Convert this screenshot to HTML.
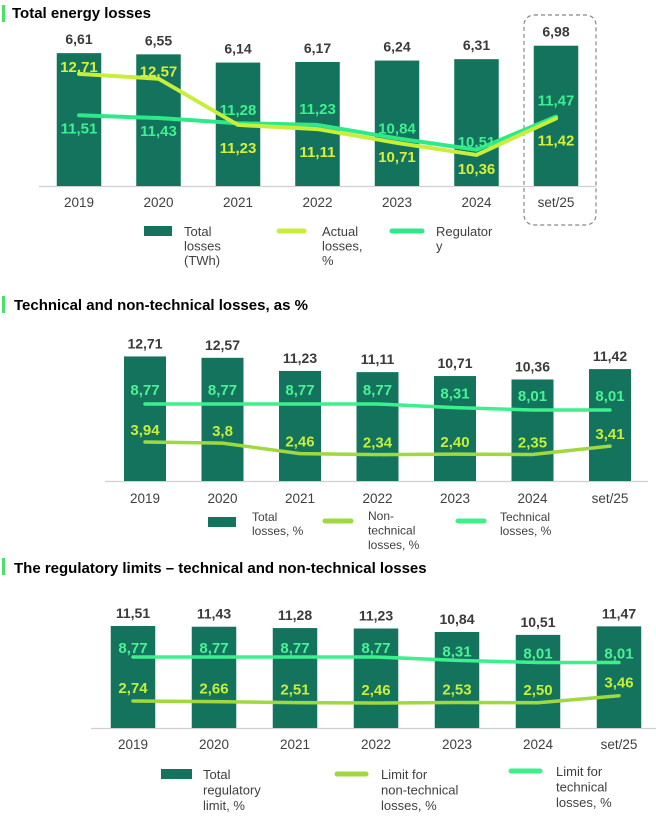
<!DOCTYPE html>
<html><head><meta charset="utf-8">
<style>
html,body{margin:0;padding:0;background:#fff;}
svg{display:block;font-family:"Liberation Sans",Arial,sans-serif;}
.t{font-weight:bold;font-size:15px;fill:#000;}
.v{font-weight:bold;fill:#3a3a3a;}
.x{fill:#404040;}
.lg{fill:#404040;}
</style></head>
<body>
<svg id="s" width="656" height="817" viewBox="0 0 656 817">
  <rect x="2" y="5" width="3" height="17" fill="#4ce06a"/>
  <text class="t" x="12" y="18">Total energy losses</text>
  <rect x="2" y="296" width="3" height="17" fill="#4ce06a"/>
  <text class="t" x="14" y="310">Technical and non-technical losses, as %</text>
  <rect x="2" y="558" width="3" height="17" fill="#4ce06a"/>
  <text class="t" x="14" y="573">The regulatory limits – technical and non-technical losses</text>
  <rect x="524" y="15" width="72" height="210" rx="10" fill="none" stroke="#888" stroke-width="1.2" stroke-dasharray="4,3"/>
</svg>
<script>
// ---- data ----
const categories = ["2019","2020","2021","2022","2023","2024","set/25"];
// chart 1
const totalLossesTWh = [6.61,6.55,6.14,6.17,6.24,6.31,6.98];
const actualLossesPct = [12.71,12.57,11.23,11.11,10.71,10.36,11.42];
const regulatoryLimitPct = [11.51,11.43,11.28,11.23,10.84,10.51,11.47];
const totalLabels = ["6,61","6,55","6,14","6,17","6,24","6,31","6,98"];
const actualLabels = ["12,71","12,57","11,23","11,11","10,71","10,36","11,42"];
const regLabels = ["11,51","11,43","11,28","11,23","10,84","10,51","11,47"];
// chart 2
const totalLossesPct = [12.71,12.57,11.23,11.11,10.71,10.36,11.42];
const technicalPct = [8.77,8.77,8.77,8.77,8.31,8.01,8.01];
const nonTechnicalPct = [3.94,3.8,2.46,2.34,2.40,2.35,3.41];
const totalPctLabels = ["12,71","12,57","11,23","11,11","10,71","10,36","11,42"];
const techLabels = ["8,77","8,77","8,77","8,77","8,31","8,01","8,01"];
const nonTechLabels = ["3,94","3,8","2,46","2,34","2,40","2,35","3,41"];
// chart 3
const totalRegLimitPct = [11.51,11.43,11.28,11.23,10.84,10.51,11.47];
const techLimitPct = [8.77,8.77,8.77,8.77,8.31,8.01,8.01];
const nonTechLimitPct = [2.74,2.66,2.51,2.46,2.53,2.50,3.46];
const totalRegLabels = ["11,51","11,43","11,28","11,23","10,84","10,51","11,47"];
const techLimitLabels = ["8,77","8,77","8,77","8,77","8,31","8,01","8,01"];
const nonTechLimitLabels = ["2,74","2,66","2,51","2,46","2,53","2,50","3,46"];

// ---- layout (not data) ----
const actualLabelDy = [-2,-2,28,28,19,19,27];
const regLabelDy = [18,18,-8,-11,-5,-3,-11];

const svg = document.getElementById('s');
const NS = 'http://www.w3.org/2000/svg';
function mk(tag, attrs, parent){
  const e = document.createElementNS(NS, tag);
  for (const k in attrs) e.setAttribute(k, attrs[k]);
  (parent||svg).appendChild(e);
  return e;
}
const BAR = '#14735c';

function drawChart(cfg){
  const g = mk('g', {});
  
  
  const xPos = i => cfg.x0 + i*cfg.step;
  const yBar = v => cfg.base - v*cfg.barK;
  const yLine = v => cfg.lineB - v*cfg.lineK;
  const ax = mk('line', {x1:cfg.axL, x2:cfg.axR, y1:cfg.base+0.5, y2:cfg.base+0.5, stroke:'#d0d0d0', 'stroke-width':1.2}, g);
  
  
  categories.forEach((c,i)=>{
    const v = cfg.bars[i];
    const r = mk('rect', {x:xPos(i)-cfg.bw/2, y:yBar(v), width:cfg.bw, height:cfg.base-yBar(v), fill:BAR}, g);
    
    
    const t = mk('text', {x:xPos(i), y:yBar(v)-cfg.valGap, 'text-anchor':'middle', class:'v', 'font-size':cfg.valFs}, g);
    t.textContent = cfg.barLabels[i];
    
    
    const xl = mk('text', {x:xPos(i), y:cfg.xLabY, 'text-anchor':'middle', class:'x', 'font-size':13.5}, g);
    xl.textContent = c;
    
    
  });
  cfg.lines.forEach(L=>{
    const yf = L.scale || yLine;
    const pts = L.vals.map((v,i)=>xPos(i)+','+yf(v)).join(' ');
    const p = mk('polyline', {points:pts, fill:'none', stroke:L.color, 'stroke-width':L.w||3.5, 'stroke-linejoin':'round', 'stroke-linecap':'round'}, g);
    
    
    L.vals.forEach((v,i)=>{
      const dy = L.dy ? L.dy[i] : L.off;
      const t = mk('text', {x:xPos(i), y:yf(v)+dy, 'text-anchor':'middle', 'font-weight':'bold', 'font-size':L.fs||14, fill:L.lc}, g);
      t.textContent = L.labels[i];
      
      
    });
  });
  cfg.legend.forEach(it=>{
    let s;
    if (it.type==='bar') s = mk('rect', {x:it.x, y:it.y-5, width:it.w, height:10, fill:BAR}, g);
    else s = mk('line', {x1:it.x, x2:it.x+it.w, y1:it.y, y2:it.y, stroke:it.color, 'stroke-width':5, 'stroke-linecap':'round'}, g);
    
    
    it.lines.forEach((ln,j)=>{
      const t = mk('text', {x:it.tx, y:it.ty + j*it.lh, class:'lg', 'font-size':it.fs}, g);
      t.textContent = ln;
      
      
    });
  });
}

// Chart 1
const c1pct = v => 186 - (v - 9.46)*34.5;
drawChart({
  name:'chart-total-energy-losses', x0:79, step:79.5, bw:44.5, base:186, barK:20.1,
  lineB:0, lineK:0, axL:39, axR:596, xLabY:207, valGap:9, valFs:14,
  bars:totalLossesTWh, barLabels:totalLabels,
  lines:[
    {name:'regulatory-limit-line', vals:regulatoryLimitPct, labels:regLabels, color:'#2ee88a', lc:'#3ef090', dy:regLabelDy, scale:c1pct, w:4, fs:15},
    {name:'actual-losses-line', vals:actualLossesPct, labels:actualLabels, color:'#c8ee3a', lc:'#d6f03a', dy:actualLabelDy, scale:c1pct, w:4, fs:15}
  ],
  legend:[
    {type:'bar', x:144, y:231, w:28, tx:184, ty:236, lh:14.5, fs:13, lines:['Total','losses','(TWh)']},
    {type:'line', color:'#c8ee3a', x:279, y:231, w:25, tx:322, ty:236, lh:14.5, fs:13, lines:['Actual','losses,','%']},
    {type:'line', color:'#2ee88a', x:392, y:231, w:30, tx:436, ty:236, lh:14.5, fs:13, lines:['Regulator','y']}
  ]
});
// Chart 2
drawChart({
  name:'chart-technical-nontechnical-losses', x0:145, step:77.5, bw:42, base:481, barK:9.8,
  lineB:473, lineK:7.87, axL:105, axR:648, xLabY:503, valGap:8, valFs:14,
  bars:totalLossesPct, barLabels:totalPctLabels,
  lines:[
    {name:'technical-losses-line', vals:technicalPct, labels:techLabels, color:'#3cf08c', lc:'#4af296', off:-9, w:3.5, fs:15},
    {name:'nontechnical-losses-line', vals:nonTechnicalPct, labels:nonTechLabels, color:'#a0d840', lc:'#c6ee3a', off:-7, w:3.5, fs:15}
  ],
  legend:[
    {type:'bar', x:208, y:522, w:28, tx:252, ty:521, lh:14, fs:12, lines:['Total','losses, %']},
    {type:'line', color:'#a0d840', x:325, y:521, w:26, tx:368, ty:520, lh:14.5, fs:12, lines:['Non-','technical','losses, %']},
    {type:'line', color:'#3cf08c', x:458, y:521, w:26, tx:500, ty:521, lh:14, fs:12, lines:['Technical','losses,  %']}
  ]
});
// Chart 3
drawChart({
  name:'chart-regulatory-limits', x0:133, step:81, bw:44.5, base:728, barK:8.86,
  lineB:721, lineK:7.3, axL:91, axR:656, xLabY:749, valGap:8, valFs:14,
  bars:totalRegLimitPct, barLabels:totalRegLabels,
  lines:[
    {name:'technical-limit-line', vals:techLimitPct, labels:techLimitLabels, color:'#3cf08c', lc:'#4af296', off:-4, w:3.5, fs:15},
    {name:'nontechnical-limit-line', vals:nonTechLimitPct, labels:nonTechLimitLabels, color:'#a0d840', lc:'#c6ee3a', off:-8, w:3.5, fs:15}
  ],
  legend:[
    {type:'bar', x:161, y:774, w:31, tx:203, ty:779, lh:15.5, fs:13, lines:['Total','regulatory','limit, %']},
    {type:'line', color:'#a0d840', x:337, y:774, w:29, tx:381, ty:779, lh:15.5, fs:13, lines:['Limit for','non-technical','losses, %']},
    {type:'line', color:'#3cf08c', x:511, y:771, w:29, tx:556, ty:776, lh:15.5, fs:13, lines:['Limit for','technical','losses, %']}
  ]
});
</script>
</body></html>
